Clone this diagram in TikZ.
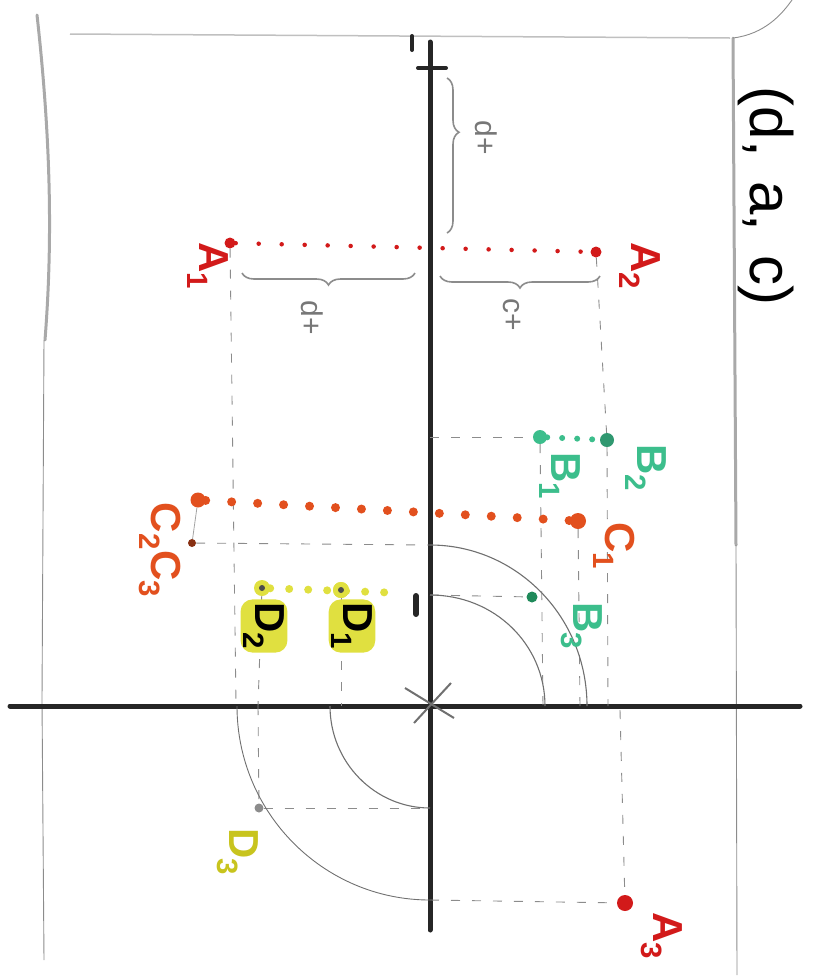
\documentclass[tikz,border=0pt]{standalone}
\usepackage{fontspec}
\setmainfont{Liberation Sans}
\usetikzlibrary{decorations.pathreplacing}
\definecolor{pred}{HTML}{D21A1A}
\definecolor{porange}{HTML}{E2501E}
\definecolor{pgreen}{HTML}{3CBE8C}
\definecolor{pdgreen}{HTML}{1F8A5A}
\definecolor{pyellow}{HTML}{E0E040}
\definecolor{pdyellow}{HTML}{C8C41E}
\definecolor{pencil}{HTML}{8C8C8C}
\tikzset{
 pdot/.style={circle, fill=#1, inner sep=0pt, minimum size=12pt},
 lab/.style={rotate=-90, text=#1, font=\fontsize{42}{42}\selectfont\bfseries, inner sep=0pt},
 smalllab/.style={rotate=-90, text=#1, font=\fontsize{30}{30}\selectfont, inner sep=0pt},
 proj/.style={pencil, line width=0.9pt, dash pattern=on 9pt off 12pt},
 arcline/.style={pencil!80!black, line width=1.1pt},
 axisline/.style={black!85, line width=5pt, line cap=round},
 border/.style={pencil!75, line width=3pt, line cap=round},
 thinborder/.style={pencil, line width=0.9pt},
 dotrow/.style={#1, line width=5pt, line cap=round, dash pattern=on 0pt off 23pt},
 bracestyle/.style={pencil, line width=1.6pt, decorate, decoration={brace, amplitude=12pt}},
}
\begin{document}
\begin{tikzpicture}[x=1pt,y=-1pt]
\useasboundingbox (0,0) rectangle (832,978);

% page borders
\draw[border] (37,15) .. controls (52,150) and (52,250) .. (45,340);
\draw[thinborder] (44,340) -- (42,700) -- (44,960);
\draw[pencil!55, line width=1.5pt] (70,34) -- (730,38);
\draw[border] (733,38) -- (736,545);
\draw[thinborder] (736,545) -- (737,975);
\draw[thinborder] (733,38) .. controls (765,34) and (782,14) .. (792,0);

% axes
\coordinate (O) at (430,706);
\coordinate (ytop) at (430,42);
\coordinate (ybot) at (430,930);
\coordinate (xl) at (10,706);
\coordinate (xr) at (800,706);
\draw[axisline] (ytop) -- (ybot);
\draw[axisline] (xl) -- (xr);
\draw[axisline, line width=4pt] (418,68) -- (446,68);
\draw[axisline, line width=4pt] (412,36) -- (412,50);
\draw[axisline, line width=6pt] (416,596) -- (416,614);
\draw[pencil!80!black, line width=2pt] (405,688) -- (454,718);
\draw[pencil!80!black, line width=2pt] (414,723) -- (451,683);

% points
\node[pdot=pred, minimum size=11pt] (A1) at (230,243) {};
\node[pdot=pred, minimum size=11pt] (A2) at (596,252) {};
\node[pdot=pred, minimum size=16pt] (A3) at (625,903) {};
\node[pdot=pgreen, minimum size=14pt] (B1) at (540,437) {};
\node[pdot=pgreen!80!black, minimum size=14pt] (B2) at (607,440) {};
\node[pdot=pdgreen, minimum size=11pt] (B3) at (532,597) {};
\node[pdot=porange, minimum size=16pt] (C1) at (578,521) {};
\node[pdot=porange, minimum size=15pt] (C2) at (198,500) {};
\node[pdot=porange!60!black, minimum size=8pt] (C3) at (192,543) {};
\node[pdot=pyellow, minimum size=16pt] (D2) at (262,588) {};
\node[pdot=pyellow, minimum size=16pt] (D1) at (341,590) {};
\node[pdot=pencil, minimum size=9pt] (D3) at (259,808) {};
\coordinate (Dend) at (402,593);

% axis feet
\coordinate (yB1) at (430,437);
\coordinate (yC3) at (430,545);
\coordinate (yB3) at (430,595);
\coordinate (yD3) at (430,808);
\coordinate (yA3) at (430,900);
\coordinate (xA1) at (236,706);
\coordinate (xD2) at (258,706);
\coordinate (xD1) at (341,706);
\coordinate (xB1) at (543,706);
\coordinate (xC1) at (580,706);
\coordinate (xA2) at (604,706);
\coordinate (xB2) at (608,706);
\coordinate (xR1) at (545,706);
\coordinate (xR2) at (587,706);
\coordinate (xL1) at (330,706);
\coordinate (xL2) at (237,706);
\coordinate (xA3) at (620,710);

% projection lines
\draw[proj] (A1) -- (xA1);
\draw[proj] (A2) -- (B2);
\draw[proj] (B2) -- (xB2);
\draw[proj] (xA3) -- (A3);
\draw[proj] (yA3) -- (A3);
\draw[proj] (yB1) -- (B1);
\draw[proj] (B1) -- (xB1);
\draw[proj] (C1) -- (xC1);
\draw[proj] (C3) -- (yC3);
\draw[proj] (yB3) -- (B3);
\draw[proj] (D1) -- (xD1);
\draw[proj] (D2) -- (xD2);
\draw[proj] (xD2) -- (D3);
\draw[proj] (D3) -- (yD3);
\draw[pencil!80, line width=0.8pt] (C2) -- (C3);

% arcs
\draw[arcline] (yC3) .. controls (516.7,545) and (587,617) .. (xR2);
\draw[arcline] (yB3) .. controls (494.8,595) and (545,644.7) .. (xR1);
\draw[arcline] (xL1) .. controls (330,762.3) and (374.8,808) .. (yD3);
\draw[arcline, line width=0.9pt] (xL2) .. controls (237,813) and (323.5,900) .. (yA3);

% dotted rows
\draw[dotrow=pred, line width=4.5pt] (A1) -- (A2);
\draw[dotrow=porange, line width=9pt, dash pattern=on 0pt off 26pt] (C2) -- (C1);
\draw[dotrow=pgreen, line width=6pt, dash pattern=on 0pt off 15pt] (B1) -- (B2);
\draw[dotrow=pyellow, line width=8pt, dash pattern=on 0pt off 19pt] (D2) -- (Dend);
\node[pdot=pyellow, minimum size=16pt] at (D1) {};
\fill[black!70] (D1) circle (3pt);
\fill[black!70] (D2) circle (3pt);

% braces
\draw[bracestyle] (415,273) -- (242,273);
\draw[bracestyle] (600,276) -- (440,276);
\draw[bracestyle, decoration={brace, amplitude=12pt, aspect=0.35}] (447,78) -- (447,233);
\node[smalllab=pencil!85!black] (dl) at (312,318) {d+};
\node[smalllab=pencil!85!black] (cl) at (512,315) {c+};
\node[smalllab=pencil!85!black] (dt) at (486,138) {d+};

% labels
\node[lab=pred] (lA1) at (208,266) {A\textsubscript{1}};
\node[lab=pred] (lA2) at (640,266) {A\textsubscript{2}};
\node[lab=pred] (lA3) at (662,936) {A\textsubscript{3}};
\node[lab=pgreen] (lB1) at (560,476) {B\textsubscript{1}};
\node[lab=pgreen] (lB2) at (646,468) {B\textsubscript{2}};
\node[lab=pgreen] (lB3) at (582,626) {B\textsubscript{3}};
\node[lab=porange] (lC1) at (614,546) {C\textsubscript{1}};
\node[lab=porange] (lC23) at (160,550) {C\textsubscript{2}C\textsubscript{3}};
\node[lab=black, fill=pyellow, rounded corners=12pt, inner sep=3pt] (lD2) at (264,626) {D\textsubscript{2}};
\node[lab=black, fill=pyellow, rounded corners=12pt, inner sep=3pt] (lD1) at (352,626) {D\textsubscript{1}};
\node[lab=pdyellow] (lD3) at (238,852) {D\textsubscript{3}};
\node[rotate=-90, font=\fontsize{60}{60}\selectfont, inner sep=0pt] (title) at (766,196) {(d,\hspace{24pt}a,\hspace{24pt}c)};
\end{tikzpicture}
\end{document}
